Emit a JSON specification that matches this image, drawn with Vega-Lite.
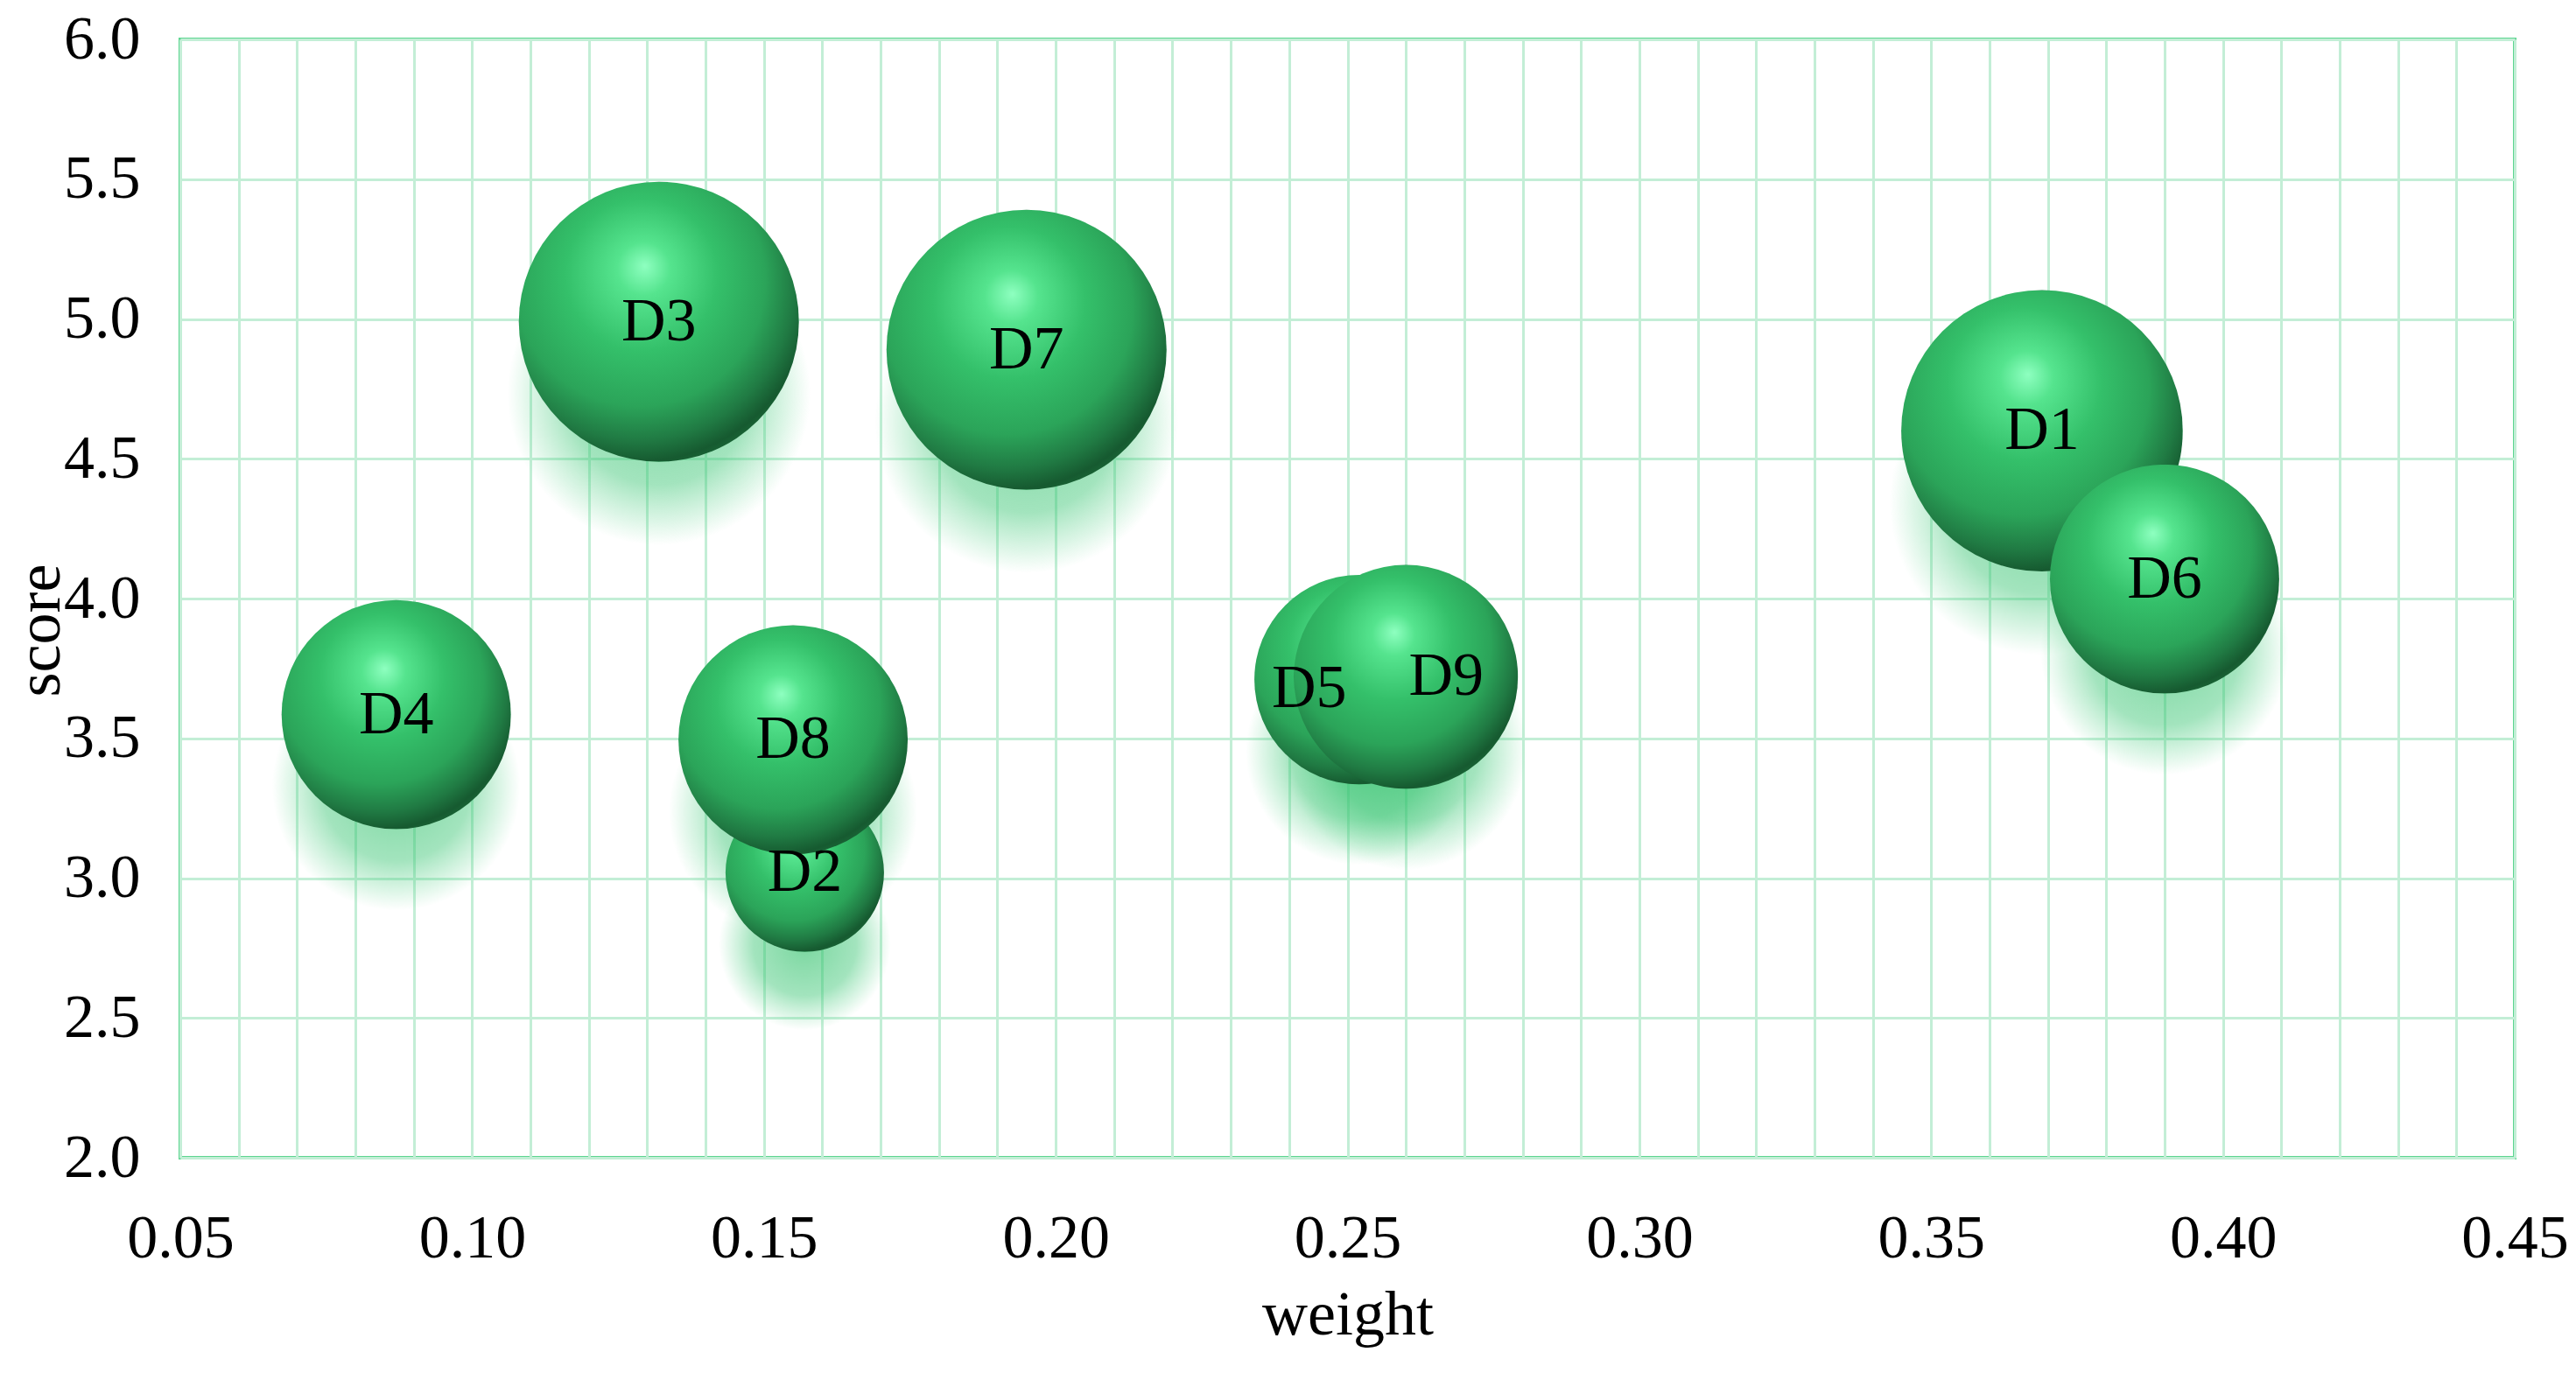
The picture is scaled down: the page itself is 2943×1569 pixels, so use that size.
{
  "$schema": "https://vega.github.io/schema/vega-lite/v6.json",
  "autosize": {"type": "none"},
  "width": 2667,
  "height": 1278,
  "padding": {"left": 206, "top": 45, "right": 70, "bottom": 246},
  "background": "white",
  "data": {
    "values": [
      {"name": "D1", "weight": 0.369, "score": 4.60, "size": 1.01},
      {"name": "D2", "weight": 0.157, "score": 3.02, "size": 0.32},
      {"name": "D3", "weight": 0.132, "score": 4.99, "size": 1.00},
      {"name": "D4", "weight": 0.087, "score": 3.585, "size": 0.67},
      {"name": "D5", "weight": 0.252, "score": 3.71, "size": 0.56},
      {"name": "D6", "weight": 0.390, "score": 4.07, "size": 0.67},
      {"name": "D7", "weight": 0.195, "score": 4.89, "size": 1.00},
      {"name": "D8", "weight": 0.155, "score": 3.495, "size": 0.67},
      {"name": "D9", "weight": 0.260, "score": 3.72, "size": 0.64}
    ]
  },
  "encoding": {
    "x": {
      "field": "weight",
      "type": "quantitative",
      "title": "weight",
      "scale": {"domain": [0.05, 0.45], "nice": false, "zero": false},
      "axis": {
        "values": [0.05, 0.06, 0.07, 0.08, 0.09, 0.10, 0.11, 0.12, 0.13, 0.14, 0.15, 0.16, 0.17, 0.18, 0.19, 0.20, 0.21, 0.22, 0.23, 0.24, 0.25, 0.26, 0.27, 0.28, 0.29, 0.30, 0.31, 0.32, 0.33, 0.34, 0.35, 0.36, 0.37, 0.38, 0.39, 0.40, 0.41, 0.42, 0.43, 0.44, 0.45],
        "labelExpr": "round(datum.value * 100) % 5 === 0 ? format(datum.value, '.2f') : ''",
        "labelPadding": 58,
        "labelOverlap": false,
        "labelFlush": false,
        "titleBaseline": "alphabetic",
        "titleY": 201
      }
    },
    "y": {
      "field": "score",
      "type": "quantitative",
      "title": "score",
      "scale": {"domain": [2, 6], "nice": false, "zero": false},
      "axis": {
        "values": [2, 2.5, 3, 3.5, 4, 4.5, 5, 5.5, 6],
        "format": ".1f",
        "labelPadding": 46,
        "labelFlush": false,
        "titleAngle": -90,
        "titleAlign": "center",
        "titleBaseline": "middle",
        "titleX": -161,
        "titleY": 675
      }
    }
  },
  "layer": [
    {
      "mark": {
        "type": "point",
        "shape": "circle",
        "filled": true,
        "opacity": 1,
        "yOffset": 82,
        "fill": {
          "gradient": "radial",
          "x1": 0.5, "y1": 0.5, "r1": 0,
          "x2": 0.5, "y2": 0.5, "r2": 0.5,
          "stops": [
            {"offset": 0, "color": "rgba(40,190,100,0.62)"},
            {"offset": 0.6, "color": "rgba(50,195,110,0.45)"},
            {"offset": 0.85, "color": "rgba(70,205,125,0.18)"},
            {"offset": 1, "color": "rgba(80,210,130,0)"}
          ]
        }
      },
      "encoding": {
        "size": {
          "field": "size",
          "type": "quantitative",
          "scale": {"domain": [0, 1], "range": [0, 120000]},
          "legend": null
        }
      }
    },
    {
      "mark": {
        "type": "point",
        "shape": "circle",
        "filled": true,
        "opacity": 1,
        "fill": {
          "gradient": "radial",
          "x1": 0.45, "y1": 0.3, "r1": 0,
          "x2": 0.42, "y2": 0.38, "r2": 0.68,
          "stops": [
            {"offset": 0, "color": "#8effc0"},
            {"offset": 0.14, "color": "#55e48e"},
            {"offset": 0.4, "color": "#34c06a"},
            {"offset": 0.66, "color": "#2ba459"},
            {"offset": 0.82, "color": "#207a43"},
            {"offset": 0.92, "color": "#165a30"},
            {"offset": 1, "color": "#1d6e3b"}
          ]
        }
      },
      "encoding": {
        "size": {
          "field": "size",
          "type": "quantitative",
          "scale": {"domain": [0, 1], "range": [0, 102400]},
          "legend": null
        }
      }
    },
    {
      "transform": [{"filter": "datum.name !== 'D5' && datum.name !== 'D9'"}],
      "mark": {"type": "text", "font": "Liberation Serif", "fontSize": 70, "color": "black", "baseline": "middle", "align": "center"},
      "encoding": {"text": {"field": "name"}}
    },
    {
      "transform": [{"filter": "datum.name === 'D5'"}],
      "mark": {"type": "text", "font": "Liberation Serif", "fontSize": 70, "color": "black", "baseline": "middle", "align": "center", "dx": -57, "dy": 10},
      "encoding": {"text": {"field": "name"}}
    },
    {
      "transform": [{"filter": "datum.name === 'D9'"}],
      "mark": {"type": "text", "font": "Liberation Serif", "fontSize": 70, "color": "black", "baseline": "middle", "align": "center", "dx": 46},
      "encoding": {"text": {"field": "name"}}
    }
  ],
  "resolve": {"scale": {"size": "independent"}},
  "config": {
    "view": {"stroke": "#5dd690", "strokeWidth": 4, "fill": "white"},
    "axis": {
      "domain": false,
      "ticks": false,
      "grid": true,
      "gridColor": "#c3eed6",
      "gridWidth": 3,
      "gridOpacity": 1,
      "labelFont": "Liberation Serif",
      "labelFontSize": 70,
      "labelColor": "black",
      "titleFont": "Liberation Serif",
      "titleFontSize": 72,
      "titleFontWeight": "normal",
      "titleColor": "black"
    }
  }
}
